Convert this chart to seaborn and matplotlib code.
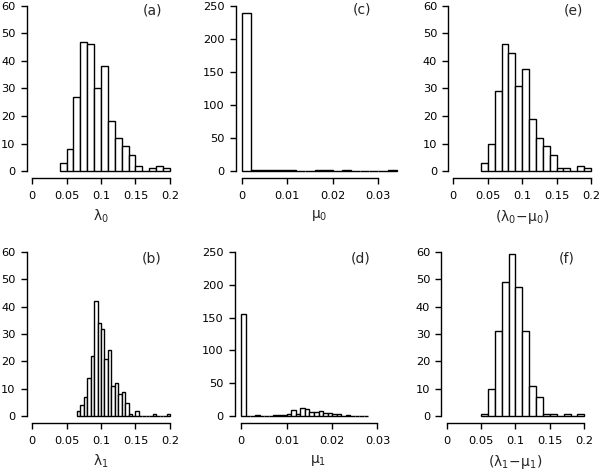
import numpy as np
import pandas as pd
import matplotlib
matplotlib.use('Agg')
import matplotlib.pyplot as plt
import seaborn as sns

# histogram counts (bin start, bin width, counts)
lambda0_start, lambda0_width = 0.04, 0.01
lambda0_counts = [3, 8, 27, 47, 46, 30, 38, 18, 12, 9, 6, 2, 0, 1, 2, 1]

lambda1_start, lambda1_width = 0.065, 0.005
lambda1_counts = [2, 4, 7, 14, 22, 42, 34, 32, 21, 24, 11, 12, 8, 9, 5, 1,
                  0, 2, 0, 0, 0, 0, 1, 0, 0, 0, 1]

mu0_start, mu0_width = 0.0, 0.002
mu0_counts = [240, 1, 1, 2, 2, 1, 0, 0, 1, 1, 0, 1, 0, 0, 0, 0, 1]

mu1_start, mu1_width = 0.0, 0.001
mu1_counts = [156, 0, 0, 2, 0, 0, 1, 2, 2, 2, 4, 9, 4, 12, 11, 7, 7, 8, 5, 5,
              3, 4, 1, 2, 1, 1, 1, 1]

r0_start, r0_width = 0.04, 0.01
r0_counts = [3, 10, 29, 46, 43, 31, 37, 19, 12, 9, 6, 1, 1, 0, 2, 1]

r1_start, r1_width = 0.05, 0.01
r1_counts = [1, 10, 31, 49, 59, 47, 31, 11, 7, 1, 1, 0, 1, 0, 1]

lam_ticks = [0, 0.05, 0.1, 0.15, 0.2]
lam_ticklabels = ['0', '0.05', '0.1', '0.15', '0.2']
mu_ticks = [0, 0.01, 0.02, 0.03]
mu_ticklabels = ['0', '0.01', '0.02', '0.03']
y60_ticks = [0, 10, 20, 30, 40, 50, 60]
y250_ticks = [0, 50, 100, 150, 200, 250]

sns.set_style('ticks')
plt.rcParams['font.family'] = ['DejaVu Sans']
plt.rcParams['mathtext.fontset'] = 'dejavusans'

W, H = 600, 476
fig = plt.figure(figsize=(6, 4.76), dpi=100)


def add_panel(left_px, right_px, top_px, bottom_px):
    return fig.add_axes([left_px / W, 1 - bottom_px / H,
                         (right_px - left_px) / W, (bottom_px - top_px) / H])


panels = [
    # start, width, counts, rect(px), xlim, ymax, xticks, xticklabels, yticks, xlabel, tag, tag_xy
    (lambda0_start, lambda0_width, lambda0_counts, (26.5, 175.5, -0.6, 177.6),
     (-0.008, 0.208), 60, lam_ticks, lam_ticklabels, y60_ticks,
     r'$\mathregular{\lambda_0}$', '(a)', (0.174, 58.5)),
    (mu0_start, mu0_width, mu0_counts, (236, 403, -0.6, 177.6),
     (-0.00125, 0.0354), 250, mu_ticks, mu_ticklabels, y250_ticks,
     r'$\mathregular{\mu_0}$', '(c)', (0.0263, 244)),
    (r0_start, r0_width, r0_counts, (448.3, 596.5, -0.6, 177.6),
     (-0.0073, 0.208), 60, lam_ticks, lam_ticklabels, y60_ticks,
     r'$\mathregular{(\lambda_0\!-\!\mu_0)}$', '(e)', (0.174, 58.5)),
    (lambda1_start, lambda1_width, lambda1_counts, (26.5, 175.5, 245.1, 422.9),
     (-0.008, 0.208), 60, lam_ticks, lam_ticklabels, y60_ticks,
     r'$\mathregular{\lambda_1}$', '(b)', (0.174, 57.5)),
    (mu1_start, mu1_width, mu1_counts, (235, 402, 245.1, 422.9),
     (-0.0014, 0.0354), 250, mu_ticks, mu_ticklabels, y250_ticks,
     r'$\mathregular{\mu_1}$', '(d)', (0.0263, 240)),
    (r1_start, r1_width, r1_counts, (441.3, 589.8, 245.1, 422.9),
     (-0.0078, 0.208), 60, lam_ticks, lam_ticklabels, y60_ticks,
     r'$\mathregular{(\lambda_1\!-\!\mu_1)}$', '(f)', (0.174, 57.5)),
]

for (start, width, counts, rect, xlim, ymax, xticks, xticklabels, yticks,
     xlabel, tag, tag_xy) in panels:
    pad = ymax * 0.04
    ax = add_panel(*rect)
    edges = start + width * np.arange(len(counts) + 1)
    df = pd.DataFrame({'value': edges[:-1] + width / 2,
                       'count': np.asarray(counts, dtype=float)})
    sns.histplot(data=df, x='value', weights='count', bins=edges.tolist(),
                 color='white', edgecolor='black', linewidth=1.0, alpha=1,
                 ax=ax)
    ax.set_xlim(*xlim)
    ax.set_ylim(-pad, ymax + pad)
    ax.spines['top'].set_visible(False)
    ax.spines['right'].set_visible(False)
    ax.spines['left'].set_bounds(0, ymax)
    ax.spines['bottom'].set_bounds(xticks[0], xticks[-1])
    for s in ('left', 'bottom'):
        ax.spines[s].set_linewidth(1.0)
        ax.spines[s].set_color('black')
    ax.set_xticks(xticks)
    ax.set_xticklabels(xticklabels)
    ax.set_yticks(yticks)
    ax.tick_params(axis='both', direction='out', length=4.5, width=1.0,
                   color='black', labelsize=8.2, labelcolor='black')
    ax.tick_params(axis='x', pad=5)
    ax.tick_params(axis='y', pad=3.5)
    ax.set_ylabel('')
    ax.set_xlabel(xlabel, fontsize=10, labelpad=5)
    ax.text(tag_xy[0], tag_xy[1], tag, ha='center', va='center', fontsize=10)

fig.savefig('out.png', dpi=100)
